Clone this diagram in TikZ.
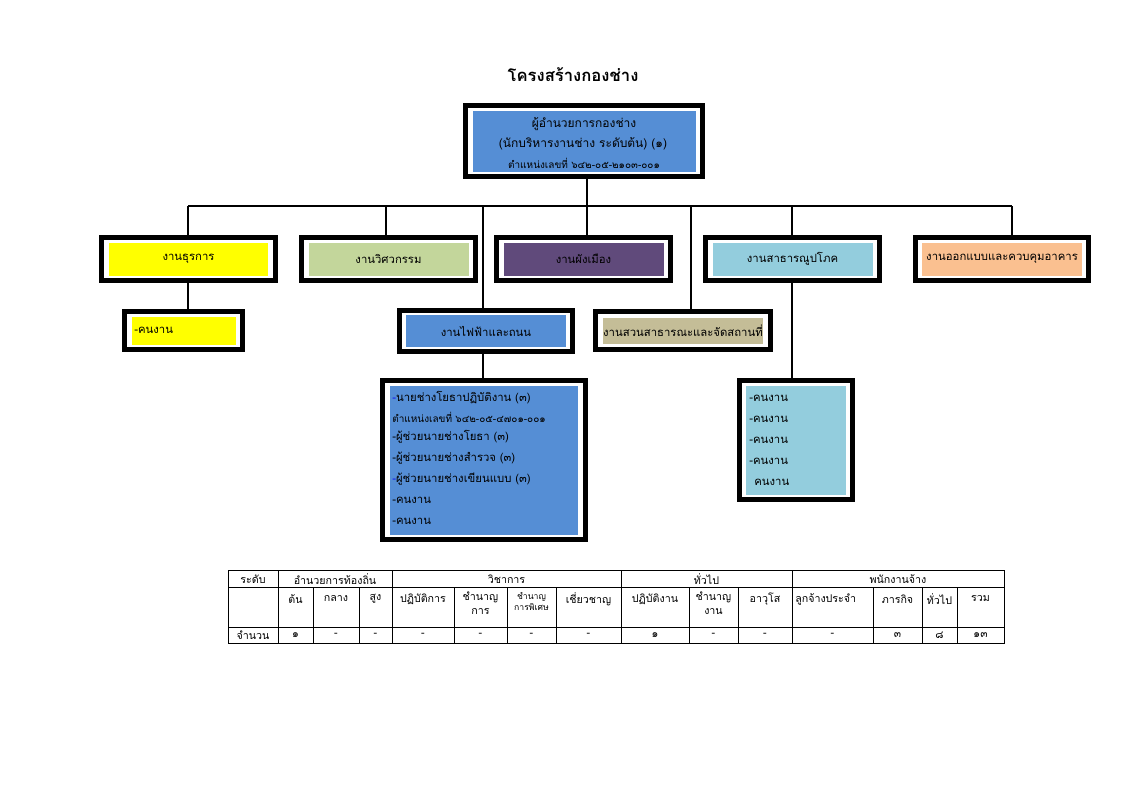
\documentclass[tikz,border=0pt]{standalone}
\usepackage{fontspec}
\setmainfont{Loma}[Script=Thai]
\newfontfamily\thfont{Loma}[Script=Thai]
\definecolor{blueF}{HTML}{558ED5}
\definecolor{yellowF}{HTML}{FFFF00}
\definecolor{greenF}{HTML}{C3D69B}
\definecolor{purpleF}{HTML}{604A7B}
\definecolor{cyanF}{HTML}{93CDDD}
\definecolor{orangeF}{HTML}{FAC090}
\definecolor{khakiF}{HTML}{C4BD97}
\definecolor{dashB}{HTML}{1010F0}
\newcommand\lbl{\fontsize{8.5}{10}\selectfont}
\newcommand\toplbl{\fontsize{9}{11}\selectfont}
\newcommand\sml{\fontsize{7.5}{9}\selectfont}
\newcommand\tbl{\fontsize{8}{9.5}\selectfont}
\newcommand\bx[9]{%
  \node[frame, minimum width={#4*0.75pt}, minimum height={#5*0.75pt}] (#1) at (#2,#3) {};
  \node[fillbox=#8, minimum width={#6*0.75pt}, minimum height={#7*0.75pt}] (#1i) at (#2,#3) {#9};}
\begin{document}
\begin{tikzpicture}[x=0.75pt,y=-0.75pt,
  frame/.style={draw=black, line width=3.5pt, fill=white, inner sep=0pt, outer sep=0pt},
  fillbox/.style={fill=#1, inner sep=0pt, outer sep=0pt, font=\lbl},
  conn/.style={draw=black, line width=1.7pt},
  item/.style={anchor=west, inner sep=0pt, font=\lbl},
  grid/.style={draw=black, line width=0.7pt},
  tcell/.style={inner sep=0pt, font=\tbl, align=center}]
\useasboundingbox[fill=white] (0,0) rectangle (1123,794);

% title
\node[font=\fontsize{12.5}{15}\selectfont\bfseries] (title) at (573,75) {โครงสร้างกองช่าง};

% boxes
\bx{top}{584}{141}{237.3}{71.3}{223}{61}{blueF}{}
\node[inner sep=0pt, font=\toplbl] (top1) at (584,124) {ผู้อำนวยการกองช่าง};
\node[inner sep=0pt, font=\toplbl] (top2) at (583,144) {(นักบริหารงานช่าง ระดับต้น) (๑)};
\node[inner sep=0pt, font=\sml] (top3) at (584,163) {ตำแหน่งเลขที่ ๖๔๒-๐๕-๒๑๐๓-๐๐๑};

\bx{ta}{188.5}{259}{174.3}{43.3}{159}{33}{yellowF}{งานธุรการ}
\bx{tb}{388.5}{259}{174.3}{43.3}{160}{33}{greenF}{งานวิศวกรรม}
\bx{tc}{583.5}{259}{174.3}{43.3}{160}{33}{purpleF}{งานผังเมือง}
\bx{td}{792.5}{259}{174.3}{43.3}{160}{33}{cyanF}{งานสาธารณูปโภค}
\bx{te}{1002}{259}{173.3}{43.3}{160}{33}{orangeF}{งานออกแบบและควบคุมอาคาร}

\bx{ka}{183.5}{330.5}{118.3}{38.3}{104}{28}{yellowF}{}
\node[item] (ka1) at (134,330) {-คนงาน};
\bx{fa}{486}{331}{173.3}{41.3}{160}{32}{blueF}{งานไฟฟ้าและถนน}
\bx{sa}{683}{330.5}{175.3}{38.3}{158}{26}{khakiF}{งานสวนสาธารณะและจัดสถานที่}

\bx{bb}{484}{460}{203.3}{159.3}{188}{149}{blueF}{}
\node[item] (b1) at (392,398) {\textcolor{dashB}{-}นายช่างโยธาปฏิบัติงาน (๓)};
\node[item, font=\sml] (b2) at (392,417) {ตำแหน่งเลขที่ ๖๔๒-๐๕-๔๗๐๑-๐๐๑};
\node[item] (b3) at (392,437) {-ผู้ช่วยนายช่างโยธา (๓)};
\node[item] (b4) at (392,458) {-ผู้ช่วยนายช่างสำรวจ (๓)};
\node[item] (b5) at (392,479) {\textcolor{dashB}{-}ผู้ช่วยนายช่างเขียนแบบ (๓)};
\node[item] (b6) at (392,500) {-คนงาน};
\node[item] (b7) at (392,521) {-คนงาน};

\bx{rb}{796}{440}{113.3}{119.3}{100}{109}{cyanF}{}
\node[item] (r1) at (749,398) {-คนงาน};
\node[item] (r2) at (749,419) {-คนงาน};
\node[item] (r3) at (749,440) {-คนงาน};
\node[item] (r4) at (749,461) {-คนงาน};
\node[item] (r5) at (754,482) {คนงาน};

% connectors
\coordinate (busL) at (188,206);
\coordinate (busR) at (1012,206);
\coordinate (x386) at (386,206);
\coordinate (x483) at (483,206);
\coordinate (x587) at (587,206);
\coordinate (x691) at (691,206);
\coordinate (x792) at (792,206);
\draw[conn] (busL) -- (busR);
\draw[conn] (top.south -| x587) -- (tc.north -| x587);
\draw[conn] (busL) -- (ta.north -| busL);
\draw[conn] (x386) -- (tb.north -| x386);
\draw[conn] (x483) -- (fa.north -| x483);
\draw[conn] (x691) -- (sa.north -| x691);
\draw[conn] (x792) -- (td.north -| x792);
\draw[conn] (busR) -- (te.north -| busR);
\draw[conn] (ta.south -| busL) -- (ka.north -| busL);
\draw[conn] (fa.south -| x483) -- (bb.north -| x483);
\draw[conn] (td.south -| x792) -- (rb.north -| x792);

% table grid
\draw[grid] (228,570) rectangle (1004,643);
\draw[grid] (228,587) -- (1004,587);
\draw[grid] (228,627) -- (1004,627);
\foreach \x in {278,392,621,792} \draw[grid] (\x,570) -- (\x,643);
\foreach \x in {313,359,454,507,556,689,738,873,922,957} \draw[grid] (\x,587) -- (\x,643);

% table text row 1
\node[tcell] (h1) at (253,579) {ระดับ};
\node[tcell] (h2) at (335,579) {อำนวยการท้องถิ่น};
\node[tcell] (h3) at (506.5,579) {วิชาการ};
\node[tcell] (h4) at (706.5,579) {ทั่วไป};
\node[tcell] (h5) at (898,579) {พนักงานจ้าง};
% row 2
\node[tcell] (s1) at (295.5,599) {ต้น};
\node[tcell] (s2) at (336,599) {กลาง};
\node[tcell] (s3) at (375.5,599) {สูง};
\node[tcell] (s4) at (423,599) {ปฏิบัติการ};
\node[tcell, anchor=north] (s5) at (480.5,592) {ชำนาญ\\[1pt]การ};
\node[tcell, anchor=north, font=\fontsize{6.5}{7.5}\selectfont] (s6) at (531.5,592) {ชำนาญ\\[1pt]การพิเศษ};
\node[tcell] (s7) at (588.5,599) {เชี่ยวชาญ};
\node[tcell] (s8) at (655,599) {ปฏิบัติงาน};
\node[tcell, anchor=north] (s9) at (713.5,592) {ชำนาญ\\[1pt]งาน};
\node[tcell] (s10) at (765,599) {อาวุโส};
\node[tcell, anchor=west] (s11) at (795,599) {ลูกจ้างประจำ};
\node[tcell] (s12) at (897.5,599) {ภารกิจ};
\node[tcell] (s13) at (939.5,599) {ทั่วไป};
\node[tcell] (s14) at (980.5,599) {รวม};
% row 3
\node[tcell] (v1) at (253,635) {จำนวน};
\node[tcell] (v2) at (295.5,635) {๑};
\node[tcell] (v3) at (336,635) {-};
\node[tcell] (v4) at (375.5,635) {-};
\node[tcell] (v5) at (423,635) {-};
\node[tcell] (v6) at (480.5,635) {-};
\node[tcell] (v7) at (531.5,635) {-};
\node[tcell] (v8) at (588.5,635) {-};
\node[tcell] (v9) at (655,635) {๑};
\node[tcell] (v10) at (713.5,635) {-};
\node[tcell] (v11) at (765,635) {-};
\node[tcell] (v12) at (832.5,635) {-};
\node[tcell] (v13) at (897.5,635) {๓};
\node[tcell] (v14) at (939.5,635) {๘};
\node[tcell] (v15) at (980.5,635) {๑๓};
\end{tikzpicture}
\end{document}
